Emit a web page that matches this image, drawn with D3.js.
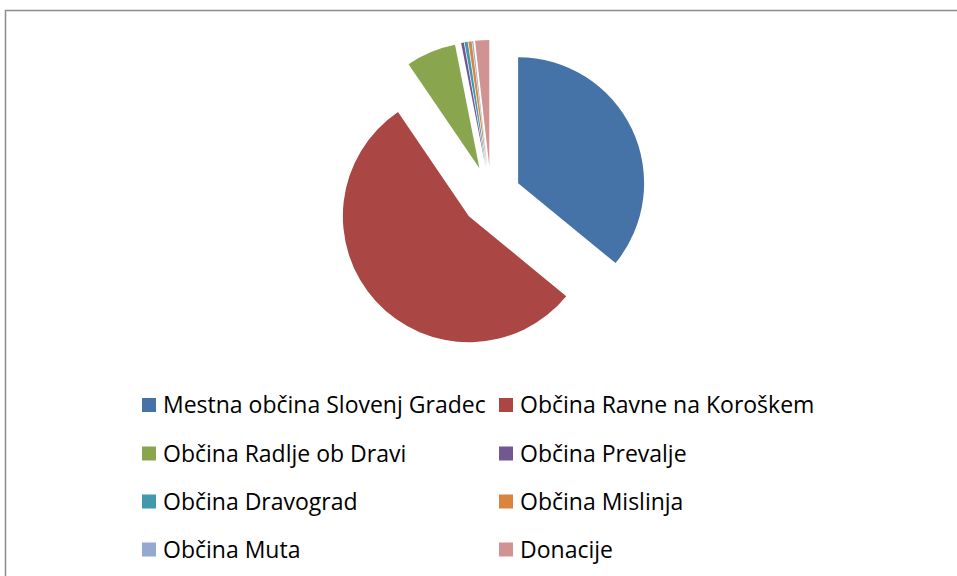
<!DOCTYPE html>
<html>
<head>
<meta charset="utf-8">
<script src="https://cdn.jsdelivr.net/npm/d3@7"></script>
<style>
  body { margin: 0; background: #fff; }
  svg { display: block; }
</style>
</head>
<body>
<div id="chart"></div>
<script>
// shares of each municipality (percent)
var categories = [
  "Mestna občina Slovenj Gradec",
  "Občina Ravne na Koroškem",
  "Občina Radlje ob Dravi",
  "Občina Prevalje",
  "Občina Dravograd",
  "Občina Mislinja",
  "Občina Muta",
  "Donacije"
];
var values = [35.9, 54.5, 6.4, 0.35, 0.4, 0.4, 0.15, 1.8];
var colors = ["#4572A7", "#AA4643", "#89A54E", "#71588F", "#4198AF", "#DB843D", "#93A9CF", "#D19392"];

var width = 957, height = 576;
var cx = 491, cy = 196, radius = 126, explode = 30;

var svg = d3.select("#chart")
  .append("svg")
  .attr("width", width)
  .attr("height", height);

// chart frame
svg.append("rect")
  .attr("x", 5.5)
  .attr("y", 10.5)
  .attr("width", width + 20)
  .attr("height", height + 20)
  .attr("fill", "none")
  .attr("stroke", "#8c8c8c")
  .attr("stroke-width", 1.5);

var pie = d3.pie().sort(null).value(function (d) { return d; });
var arc = d3.arc().innerRadius(0).outerRadius(radius);

var slices = pie(values);

svg.append("g")
  .attr("transform", "translate(" + cx + "," + cy + ")")
  .selectAll("path")
  .data(slices)
  .enter()
  .append("path")
  .attr("d", arc)
  .attr("fill", function (d, i) { return colors[i]; })
  .attr("transform", function (d) {
    // every slice pulled out along its bisector
    var mid = (d.startAngle + d.endAngle) / 2;
    return "translate(" + (Math.sin(mid) * explode) + "," + (-Math.cos(mid) * explode) + ")";
  });

// legend, two columns
var colX = [142, 499];
var rowY = [405, 453.5, 501.5, 549.5];

var legend = svg.append("g")
  .selectAll("g")
  .data(categories)
  .enter()
  .append("g")
  .attr("transform", function (d, i) {
    return "translate(" + colX[i % 2] + "," + rowY[Math.floor(i / 2)] + ")";
  });

legend.append("rect")
  .attr("x", 0)
  .attr("y", -7)
  .attr("width", 14)
  .attr("height", 14)
  .attr("fill", function (d, i) { return colors[i]; });

legend.append("text")
  .attr("x", 21)
  .attr("y", 0)
  .attr("dy", "0.36em")
  .style("font-family", "'Open Sans', Lato, sans-serif")
  .style("font-size", "23px")
  .style("fill", "#000")
  .text(function (d) { return d; });
</script>
</body>
</html>
